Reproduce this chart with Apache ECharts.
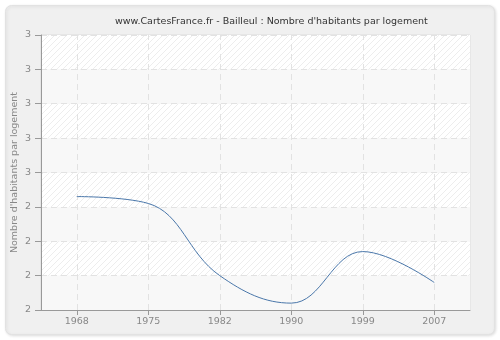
<!DOCTYPE html>
<html>
<head>
<meta charset="utf-8">
<script src="https://cdn.jsdelivr.net/npm/echarts@6/dist/echarts.min.js"></script>
<style>
html,body{margin:0;padding:0;background:#ffffff;}
#chart{width:500px;height:340px;}
</style>
</head>
<body>
<div id="chart"></div>
<script>
// Data
var titleText = "www.CartesFrance.fr - Bailleul : Nombre d'habitants par logement";
var yAxisName = "Nombre d'habitants par logement";
var years = ['1968', '1975', '1982', '1990', '1999', '2007'];
var values = [2.43, 2.41, 2.20, 2.12, 2.27, 2.18];
var yMin = 2.1;
var yMax = 2.9;
var yStep = 0.1;

// hatch pattern
var pc = document.createElement('canvas');
pc.width = 6; pc.height = 6;
var ctx = pc.getContext('2d');
ctx.fillStyle = '#ffffff';
ctx.fillRect(0, 0, 6, 6);
ctx.strokeStyle = '#ededed';
ctx.lineWidth = 1;
ctx.beginPath();
ctx.moveTo(0, 6); ctx.lineTo(6, 0);
ctx.moveTo(-3, 3); ctx.lineTo(3, -3);
ctx.moveTo(3, 9); ctx.lineTo(9, 3);
ctx.stroke();

var chart = echarts.init(document.getElementById('chart'), null, {renderer: 'canvas'});
var font = 'DejaVu Sans';
var gridLineStyle = {color: '#e2e2e2', type: [6, 4], width: 1};
chart.setOption({
  animation: false,
  backgroundColor: '#ffffff',
  graphic: [{
    type: 'rect',
    z: -10,
    shape: {x: 5.5, y: 5.5, width: 489, height: 329, r: 6},
    style: {fill: '#f0f0f0', stroke: '#e2e2e2', lineWidth: 1,
      shadowBlur: 3, shadowColor: 'rgba(0,0,0,0.12)', shadowOffsetX: 1, shadowOffsetY: 1}
  }],
  title: {
    text: titleText,
    left: 110,
    top: 12,
    textStyle: {fontFamily: font, fontSize: 9.5, fontWeight: 'normal', color: '#333333'}
  },
  grid: {
    left: 41, right: 30, top: 35, bottom: 30,
    outerBoundsMode: 'none',
    containLabel: false,
    show: true, borderColor: '#dddddd', borderWidth: 1, backgroundColor: 'transparent'
  },
  xAxis: {
    type: 'category',
    data: years,
    boundaryGap: true,
    axisLine: {show: true, lineStyle: {color: '#999999', width: 1}},
    axisTick: {show: true, alignWithLabel: true, length: 5, lineStyle: {color: '#999999'}},
    axisLabel: {fontFamily: font, fontSize: 9.5, color: '#888888', margin: 7},
    splitLine: {show: false}
  },
  yAxis: {
    type: 'value',
    min: yMin, max: yMax, interval: yStep,
    name: yAxisName,
    nameLocation: 'middle',
    nameGap: 21,
    nameMoveOverlap: false,
    nameTextStyle: {fontFamily: font, fontSize: 9.5, color: '#888888'},
    axisLine: {show: true, lineStyle: {color: '#999999', width: 1}},
    axisTick: {show: true, length: 6, lineStyle: {color: '#999999'}},
    axisLabel: {fontFamily: font, fontSize: 9.5, color: '#888888', margin: 10,
      formatter: function (v) { return Math.round(v).toString(); }},
    splitLine: {show: true, lineStyle: gridLineStyle},
    splitArea: {show: true, areaStyle: {color: ['#f8f8f8', {image: pc, repeat: 'repeat'}]}}
  },
  series: [{
    type: 'line',
    data: values,
    smooth: 0.4,
    showSymbol: false,
    symbol: 'none',
    lineStyle: {color: '#4a77aa', width: 1},
    z: 3,
    markLine: {
      silent: true,
      symbol: ['none', 'none'],
      label: {show: false},
      lineStyle: gridLineStyle,
      z: 1,
      data: years.map(function (y) { return {xAxis: y}; })
    }
  }]
});
</script>
</body>
</html>
